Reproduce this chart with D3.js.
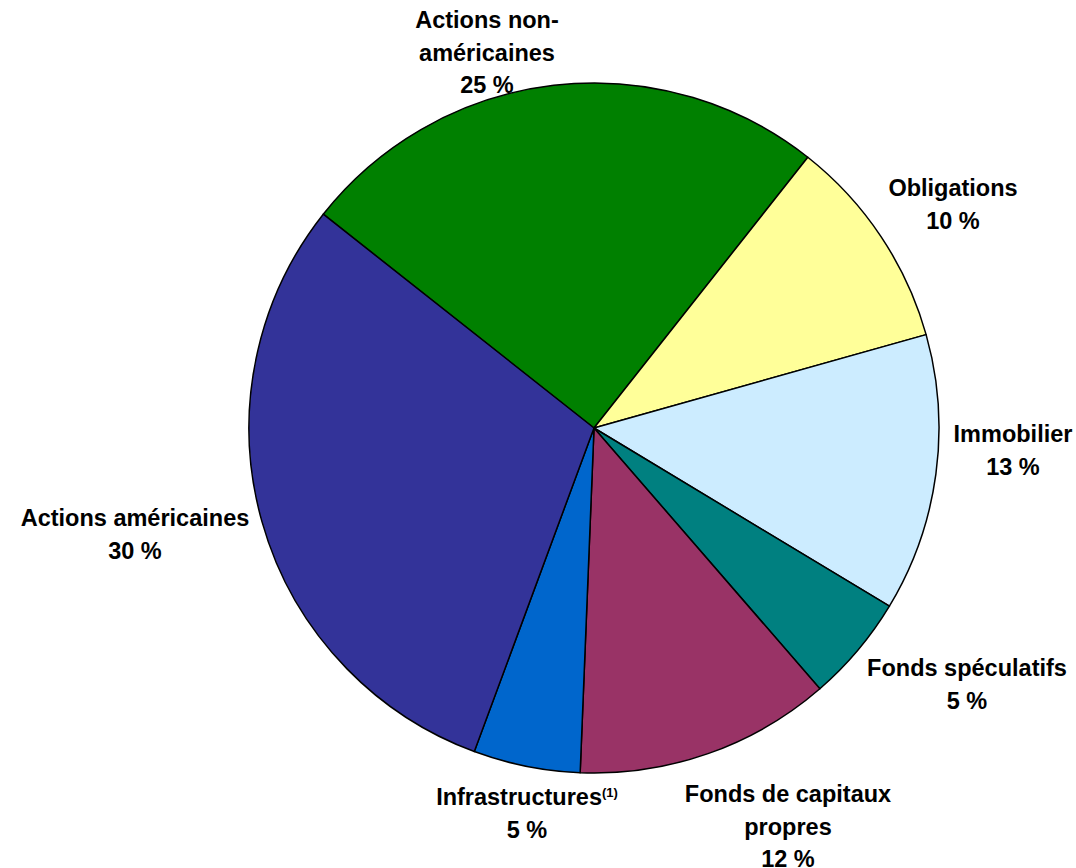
<!DOCTYPE html>
<html><head><meta charset="utf-8">
<script src="https://cdn.jsdelivr.net/npm/d3@7"></script>
<style>html,body{margin:0;padding:0;background:#fff;}svg{display:block;}</style>
</head><body>
<svg id="chart" width="1076" height="868"></svg>
<script>
const categories = ["Actions non-américaines","Obligations","Immobilier","Fonds spéculatifs","Fonds de capitaux propres","Infrastructures","Actions américaines"];
const values = [25, 10, 13, 5, 12, 5, 30];
const colors = ["#008000","#FFFF99","#CCECFF","#008080","#993366","#0066CC","#333399"];
const labelLines = [
  ["Actions non-","américaines","25 %"],
  ["Obligations","10 %"],
  ["Immobilier","13 %"],
  ["Fonds spéculatifs","5 %"],
  ["Fonds de capitaux","propres","12 %"],
  ["Infrastructures|(1)","5 %"],
  ["Actions américaines","30 %"]
];

const svg = d3.select("#chart");
const cx = 594, cy = 428, R = 345;
const startA = -51.7 * Math.PI/180;
const pie = d3.pie().sort(null).value(d=>d).startAngle(startA).endAngle(startA + 2*Math.PI);
const arcs = pie(values);
const arc = d3.arc().innerRadius(0).outerRadius(R);
const g = svg.append("g").attr("transform",`translate(${cx},${cy})`);
g.selectAll("path").data(arcs).enter().append("path")
  .attr("d",arc).attr("fill",(d,i)=>colors[i])
  .attr("stroke","#000").attr("stroke-width",1.5).attr("stroke-linejoin","round");

const labelLayout = [
  {x:487, y:20}, {x:953, y:188}, {x:1013, y:434}, {x:967, y:668},
  {x:788, y:794}, {x:527, y:797}, {x:135, y:518}
];
const lh = 32.3;
labelLines.forEach((lines,i)=>{
  const L = labelLayout[i];
  const t = svg.append("text").attr("text-anchor","middle")
    .attr("font-family","'Liberation Sans', Arial, sans-serif").attr("font-weight","bold")
    .attr("font-size","23.5px").attr("fill","#000");
  lines.forEach((ln,j)=>{
    const parts = ln.split("|");
    t.append("tspan").attr("x",L.x).attr("y",L.y + j*lh).attr("dy","0.35em").text(parts[0]);
    if(parts[1]){
      t.append("tspan").attr("font-size","13px").attr("dy","-0.6em").text(parts[1]);
    }
  });
});
</script>
</body></html>
